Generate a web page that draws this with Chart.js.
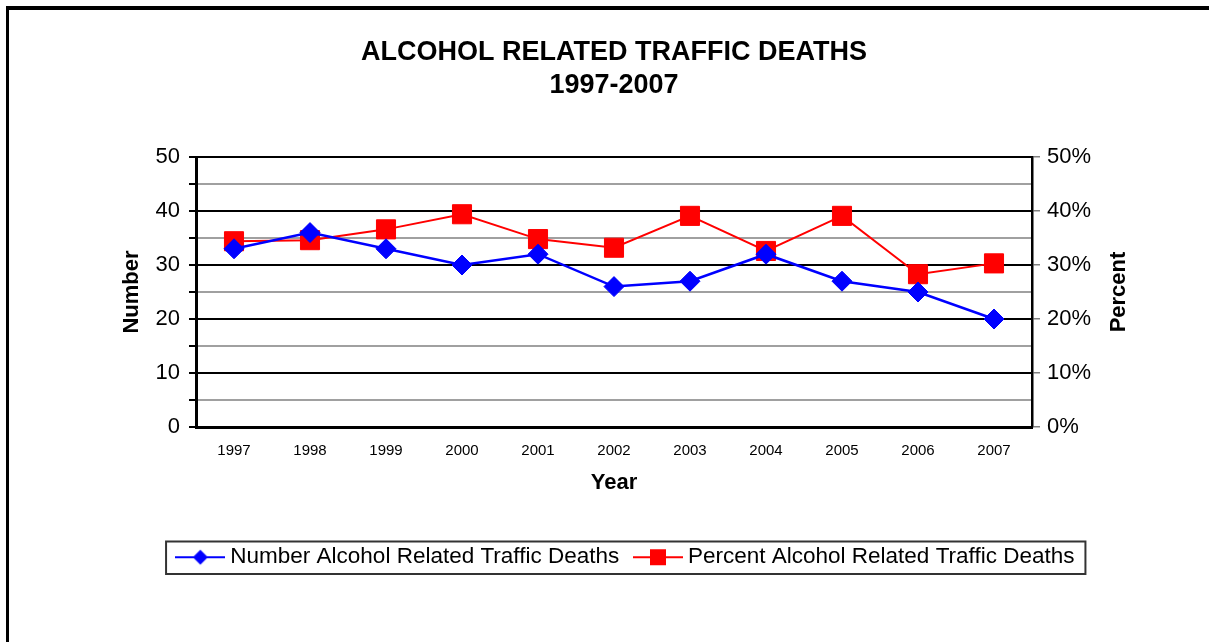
<!DOCTYPE html>
<html>
<head>
<meta charset="utf-8">
<script src="https://cdn.jsdelivr.net/npm/chart.js@4.4.1/dist/chart.umd.min.js"></script>
<style>
  html, body { margin: 0; padding: 0; background: #fff; }
  canvas { display: block; }
</style>
</head>
<body>
<canvas id="c" width="1209" height="642"></canvas>
<script>
// ---- data ----
const years = ['1997','1998','1999','2000','2001','2002','2003','2004','2005','2006','2007'];
const numberDeaths = [33, 36, 33, 30, 32, 26, 27, 32, 27, 25, 20];
const percentDeaths = [34.4, 34.6, 36.6, 39.4, 34.8, 33.2, 39.1, 32.6, 39.1, 28.3, 30.3];
const titleLines = ['ALCOHOL RELATED TRAFFIC DEATHS', '1997-2007'];
const seriesNames = ['Number Alcohol Related Traffic Deaths', 'Percent Alcohol Related Traffic Deaths'];

const FONT = "'Liberation Sans', Arial, Helvetica, sans-serif";
Chart.defaults.font.family = FONT;
Chart.defaults.color = '#000';

function makeIcon(color, shape) {
  const c = document.createElement('canvas');
  c.width = 50; c.height = 24;
  const g = c.getContext('2d');
  g.strokeStyle = color; g.lineWidth = 2;
  g.beginPath(); g.moveTo(0, 12); g.lineTo(50, 12); g.stroke();
  g.fillStyle = color;
  g.beginPath();
  if (shape === 'diamond') {
    g.moveTo(25, 4.5); g.lineTo(32.5, 12); g.lineTo(25, 19.5); g.lineTo(17.5, 12); g.closePath();
  } else {
    g.rect(17, 4, 16, 16);
  }
  g.fill();
  return c;
}
const icons = [makeIcon('#0000ff', 'diamond'), makeIcon('#ff0000', 'square')];

const decor = {
  id: 'decor',
  beforeDraw(chart) {
    const ctx = chart.ctx;
    ctx.save();
    ctx.fillStyle = '#fff';
    ctx.fillRect(0, 0, chart.width, chart.height);
    ctx.fillStyle = '#000';
    ctx.fillRect(6, 6, chart.width - 6, 4);
    ctx.fillRect(6, 6, 3, chart.height - 6);
    ctx.restore();
  },
  afterDraw(chart) {
    const ctx = chart.ctx;
    const hb = chart.legend.legendHitBoxes;
    if (hb && hb.length) {
      const first = hb[0], last = hb[hb.length - 1];
      const l = first.left - 15.5;
      const r = last.left + last.width + 11;
      const t = first.top - 4.5;
      const b = first.top + first.height + 5.5;
      ctx.save();
      ctx.strokeStyle = '#333';
      ctx.lineWidth = 2;
      ctx.strokeRect(l, t, r - l, b - t);
      ctx.restore();
    }
    const s = chart.scales.y2;
    const ca = chart.chartArea;
    ctx.save();
    ctx.translate(s.left + 87, (ca.top + ca.bottom) / 2);
    ctx.rotate(-Math.PI / 2);
    ctx.font = 'bold 22px ' + FONT;
    ctx.fillStyle = '#000';
    ctx.textAlign = 'center';
    ctx.textBaseline = 'middle';
    ctx.fillText('Percent', 0, 0);
    ctx.restore();
  }
};

new Chart(document.getElementById('c'), {
  type: 'line',
  data: {
    labels: years,
    datasets: [
      {
        label: seriesNames[0],
        data: numberDeaths,
        yAxisID: 'y',
        borderColor: '#0000ff',
        backgroundColor: '#0000ff',
        borderWidth: 2.5,
        pointStyle: 'rectRot',
        pointRadius: 10,
        pointBorderWidth: 1,
        tension: 0
      },
      {
        label: seriesNames[1],
        data: percentDeaths,
        yAxisID: 'y2',
        borderColor: '#ff0000',
        backgroundColor: '#ff0000',
        borderWidth: 2,
        pointStyle: 'rect',
        pointRadius: 13.5,
        pointBorderWidth: 1,
        tension: 0
      }
    ]
  },
  options: {
    responsive: false,
    devicePixelRatio: 1,
    animation: false,
    layout: { padding: { left: 57, right: 10, top: 0, bottom: 63.5 } },
    plugins: {
      tooltip: { enabled: false },
      title: {
        display: true,
        fullSize: false,
        text: titleLines,
        color: '#000',
        font: { size: 27, weight: 'bold', lineHeight: 33 / 27 },
        padding: { top: 36.5, bottom: 54.5 }
      },
      legend: {
        position: 'bottom',
        labels: {
          usePointStyle: true,
          pointStyleWidth: 37.5,
          boxHeight: 22,
          padding: 20,
          color: '#000',
          font: { size: 22.5 },
          generateLabels: (chart) => Chart.defaults.plugins.legend.labels.generateLabels(chart)
            .map((l, i) => Object.assign(l, { pointStyle: icons[i] }))
        }
      }
    },
    scales: {
      x: {
        offset: true,
        grid: { display: false, drawTicks: false },
        border: { display: true, color: '#000', width: 3 },
        ticks: { padding: 15, font: { size: 15 }, color: '#000', maxRotation: 0 },
        title: { display: true, text: 'Year', font: { size: 22, weight: 'bold' }, color: '#000', padding: { bottom: 29.8 } },
        afterFit(scale) { scale.height = 99; }
      },
      y: {
        position: 'left',
        min: 0, max: 50,
        ticks: {
          stepSize: 5,
          autoSkip: false,
          padding: 9,
          font: { size: 22 },
          color: '#000',
          callback: (v) => (v % 10 === 0 ? String(v) : '')
        },
        grid: {
          color: (ctx) => (ctx.tick && ctx.tick.value % 10 === 0 ? '#000' : '#a0a0a0'),
          lineWidth: 2,
          tickColor: '#000',
          tickLength: 7
        },
        border: { color: '#000', width: 3 },
        title: { display: true, text: 'Number', font: { size: 22, weight: 'bold' }, color: '#000', padding: { top: 61.5 } },
        afterFit(scale) { scale.width = 139; }
      },
      y2: {
        position: 'right',
        min: 0, max: 50,
        ticks: {
          stepSize: 10,
          autoSkip: false,
          padding: 7,
          font: { size: 22 },
          color: '#000',
          callback: (v) => v + '%'
        },
        grid: { drawOnChartArea: false, color: '#808080', tickColor: '#808080', tickLength: 8, lineWidth: 1.5 },
        border: { color: '#000', width: 2.5 },
        afterFit(scale) { scale.width = 167; }
      }
    }
  },
  plugins: [decor]
});
</script>
</body>
</html>
